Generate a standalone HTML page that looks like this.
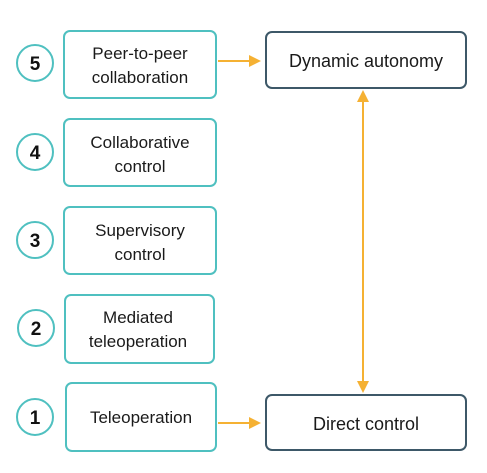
<!DOCTYPE html>
<html><head><style>
body{margin:0;width:487px;height:468px;background:#fff;overflow:hidden}
</style></head><body>
<svg width="487" height="468" xmlns="http://www.w3.org/2000/svg" font-family="Liberation Sans, sans-serif">
<g fill="#fff" stroke="#4fc0c0" stroke-width="2">
<rect x="64" y="31" width="152" height="67" rx="6"/>
<rect x="64" y="119" width="152" height="67" rx="6"/>
<rect x="64" y="207" width="152" height="67" rx="6"/>
<rect x="65" y="295" width="149" height="68" rx="6"/>
<rect x="66" y="383" width="150" height="68" rx="6"/>
<circle cx="35" cy="63" r="18"/>
<circle cx="35" cy="152" r="18"/>
<circle cx="35" cy="240" r="18"/>
<circle cx="36" cy="328" r="18"/>
<circle cx="35" cy="417" r="18"/>
</g>
<g fill="#fff" stroke="#3d5868" stroke-width="2">
<rect x="266" y="32" width="200" height="56" rx="6"/>
<rect x="266" y="395" width="200" height="55" rx="6"/>
</g>
<g stroke="#f5b133" stroke-width="2" fill="#f5b133">
<line x1="218" y1="61" x2="250" y2="61"/><polygon points="261,61 249,55 249,67" stroke="none"/>
<line x1="218" y1="423" x2="250" y2="423"/><polygon points="261,423 249,417 249,429" stroke="none"/>
<line x1="363" y1="100" x2="363" y2="383"/>
<polygon points="363,90 357,102 369,102" stroke="none"/>
<polygon points="363,393 357,381 369,381" stroke="none"/>
</g>
<g font-weight="bold" font-size="19" text-anchor="middle" fill="#111">
<text x="35" y="70">5</text><text x="35" y="159">4</text><text x="35" y="247">3</text><text x="36" y="335">2</text><text x="35" y="424">1</text>
</g>
<g font-size="17" text-anchor="middle" fill="#1a1a1a">
<text x="140" y="59">Peer-to-peer</text><text x="140" y="83">collaboration</text>
<text x="140" y="148">Collaborative</text><text x="140" y="172">control</text>
<text x="140" y="236">Supervisory</text><text x="140" y="260">control</text>
<text x="138" y="323">Mediated</text><text x="138" y="347">teleoperation</text>
<text x="141" y="423">Teleoperation</text>
<text x="366" y="67" font-size="18">Dynamic autonomy</text>
<text x="366" y="430" font-size="18">Direct control</text>
</g>
</svg>
</body></html>
